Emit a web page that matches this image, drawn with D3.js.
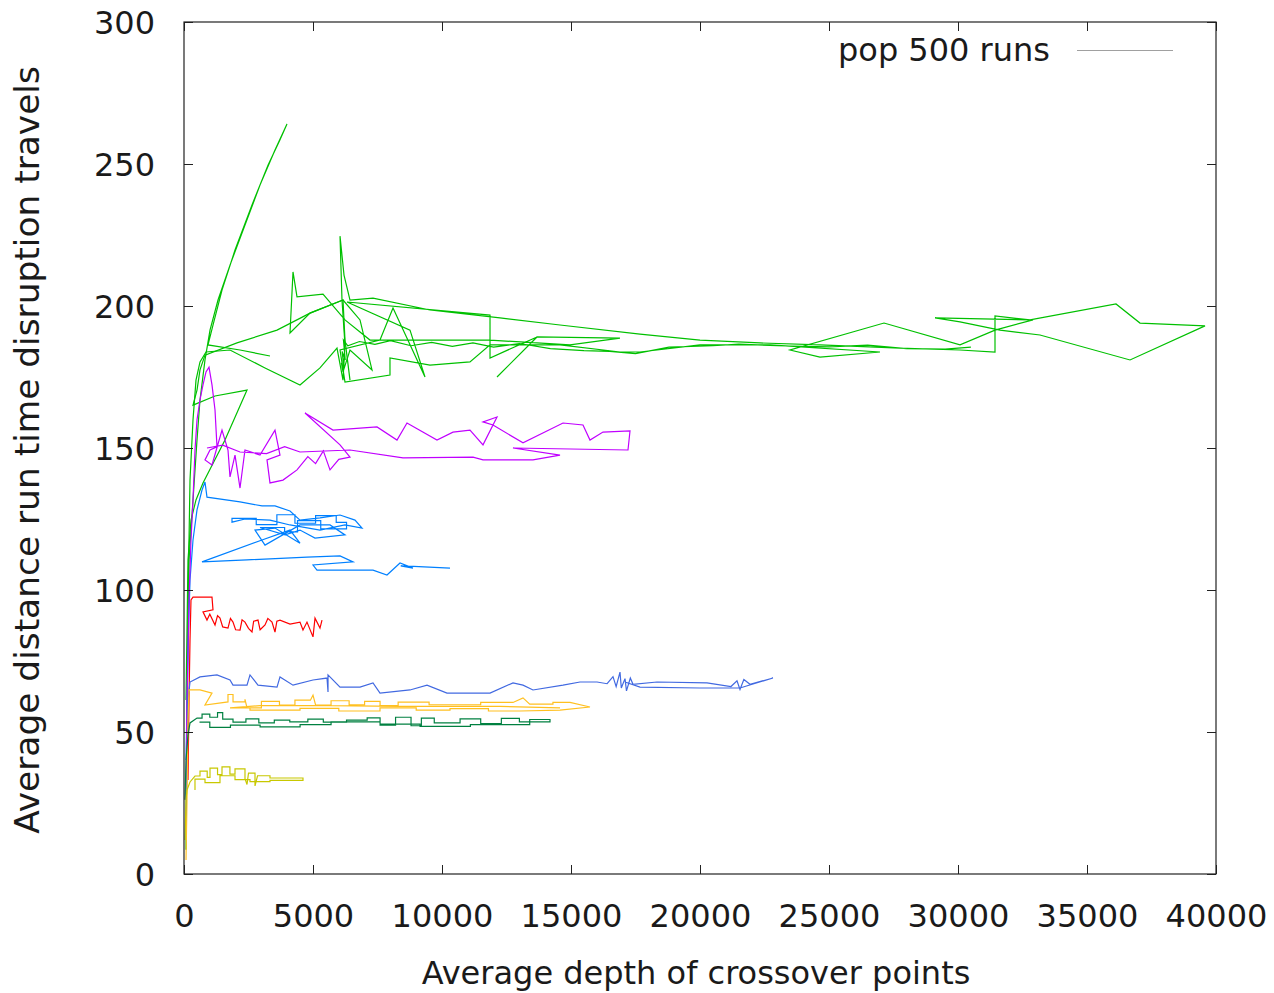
<!DOCTYPE html>
<html>
<head>
<meta charset="utf-8">
<script src="https://cdn.jsdelivr.net/npm/d3@7"></script>
<style>
  html, body { margin: 0; padding: 0; background: #fff; }
  svg { display: block; font-family: "DejaVu Sans", sans-serif; }
</style>
</head>
<body>
<svg id="chart" width="1274" height="993"></svg>
<script>
// ---- Axis ticks / labels ----
const xTicks = [0, 5000, 10000, 15000, 20000, 25000, 30000, 35000, 40000];
const yTicks = [0, 50, 100, 150, 200, 250, 300];
const xLabel = "Average depth of crossover points";
const yLabel = "Average distance run time disruption travels";
const legendLabel = "pop 500 runs";

// ---- Runs: [average depth of crossover points, average distance] ----
const greenSteep = [[78,8.5],[116,61.3],[194,110.6],[349,131.7],[504,152.8],[620,166.9],[814,181.0],[1008,191.5],[1318,202.1],[1783,214.4],[2364,228.5],[2946,242.6],[3527,254.9],[3992,264.1],[3721,258.5],[3256,249.6],[2636,235.6],[1977,219.7],[1473,205.6],[1124,193.3],[930,186.3],[2171,184.5],[3333,182.4]];

const greenSide = [[78,61.3],[155,110.6],[271,124.6],[465,131.7],[736,137.7],[1589,152.8],[2442,170.4],[1202,168.3],[349,165.1],[504,170.4],[620,177.5],[814,182.7],[2054,187.0],[3605,191.5],[4884,197.5],[6163,202.1],[6240,188.0],[6434,173.9]];

const greenMain = [[116,40.1],[155,96.5],[233,138.7],[349,159.9],[465,173.9],[620,180.3],[853,183.8],[1783,184.5],[3140,178.2],[4496,172.2],[5271,178.2],[5930,185.2],[6163,173.9],[6240,186.3],[6124,202.1],[6047,224.6],[6202,210.9],[6434,202.1],[7326,202.8],[9535,198.6],[12248,195.8],[14574,193.3],[17674,190.1],[20000,188.0],[22326,187.0],[24651,186.3],[27752,185.2],[30078,184.5],[31434,183.8],[31434,196.5],[32791,195.1],[36124,200.7],[37054,194.0],[39574,193.0],[36667,181.0],[33178,189.8],[31628,191.5],[30078,194.4],[29109,195.8],[32907,195.1],[31434,191.5],[30078,186.3],[27132,194.0],[23488,184.5],[24651,182.0],[26977,183.8],[22714,186.3],[20000,186.3],[17674,183.8],[16899,183.8],[14574,186.3],[11861,186.3],[11085,180.3],[9535,179.2],[7984,181.7],[7984,175.7],[6240,173.2],[6047,184.5],[7597,188.0],[8101,199.3],[9341,175.0],[8760,191.5],[6318,201.4],[11861,196.8],[11861,181.7],[13682,189.1],[12132,175.0],[13682,189.1],[16899,188.7],[14961,186.3],[11861,188.0],[9147,188.0],[7209,188.0],[6240,195.1],[5388,204.2],[4380,203.2],[4225,212.0],[4109,190.5],[4884,197.5],[6163,202.1],[6822,195.1],[7287,177.5],[6434,184.5],[6163,176.8],[6100,180.0],[6200,178.0],[6130,184.0],[6250,181.0],[6180,188.0],[6350,186.0],[6800,187.5],[7400,186.5],[8000,187.8],[8800,186.0],[9600,187.2],[10400,185.8],[11200,187.0],[12000,185.5],[13000,186.8],[14200,185.0],[15500,184.3],[16500,184.0],[17500,183.2],[18800,185.5],[20500,186.0],[21500,186.6],[23000,186.0],[25000,185.6],[26500,186.2],[28000,185.0],[29500,184.8],[30500,185.5]];

const magentaRun = [[78,26.1],[116,61.3],[194,96.5],[271,117.6],[349,131.7],[426,149.3],[504,159.9],[620,166.9],[736,172.2],[853,176.8],[969,178.5],[1085,172.2],[1202,163.4],[1279,150.4],[1008,149.3],[814,145.8],[1085,144.0],[1473,156.3],[1705,149.3],[1783,139.8],[1977,147.5],[2171,135.9],[2364,149.3],[2946,147.5],[3527,156.3],[3721,147.5],[3217,145.8],[3333,137.7],[3837,138.7],[4380,142.3],[4800,147.0],[5100,144.5],[5400,149.0],[5659,142.3],[6000,146.0],[6434,146.8],[6047,151.1],[4690,162.3],[5775,156.3],[7481,157.4],[8256,152.8],[8643,158.8],[9806,152.8],[10426,155.6],[11085,156.3],[11589,151.1],[12132,160.9],[11589,159.2],[11977,158.1],[13140,151.8],[14690,158.8],[15465,158.1],[15736,152.8],[16240,155.6],[17287,156.0],[17209,149.3],[12752,150.0],[14574,147.5],[13527,145.8],[11589,145.8],[11202,146.8],[8488,146.5],[6434,149.3],[4496,148.6],[3900,150.5],[3200,148.0],[2171,148.6],[1500,151.0],[891,150.0]];

const lightBlueRun = [[78,40.1],[155,78.9],[233,103.5],[349,117.6],[504,128.2],[698,135.2],[814,138.0],[891,132.7],[2171,131.0],[3023,129.6],[3527,129.6],[4109,127.8],[4496,124.6],[5271,125.4],[6047,126.4],[6628,124.6],[6899,121.8],[6240,122.9],[5271,121.1],[4109,122.9],[3333,124.6],[2364,125.0],[1860,123.9],[1860,125.2],[2800,125.2],[2800,123.0],[3600,123.0],[3600,126.5],[4300,126.5],[4300,123.5],[5100,123.5],[5100,126.2],[5900,126.2],[5900,123.8],[6300,123.8],[6300,121.5],[5300,121.5],[5300,124.4],[4400,124.4],[4400,120.5],[3900,120.5],[3900,122.0],[2946,122.0],[3915,119.4],[4496,121.1],[5078,118.3],[6240,119.4],[5659,122.9],[4496,122.9],[3140,115.8],[2752,121.1],[3527,121.8],[4496,116.5],[4109,121.1],[3023,117.6],[698,109.9],[2442,110.6],[4767,111.6],[6047,112.0],[6550,109.9],[5000,108.8],[5155,107.0],[7326,107.0],[7868,105.3],[8372,109.5],[8876,107.7],[8400,108.5],[8900,108.3],[10310,107.7]];

const redRun = [[155,33.1],[194,61.3],[233,82.4],[271,96.5],[349,97.5],[1085,97.5],[1124,93.0],[736,92.3],[891,89.4],[1000,91.5],[1202,87.7],[1300,91.0],[1395,90.1],[1500,87.0],[1705,86.6],[1800,90.0],[1899,88.7],[2000,86.0],[2171,85.9],[2250,89.5],[2364,88.7],[2500,86.5],[2636,85.2],[2700,89.0],[2868,89.4],[2950,86.0],[3140,87.7],[3250,90.0],[3411,88.7],[3527,85.2],[3600,89.0],[3721,89.4],[4109,88.0],[4496,88.7],[4612,85.9],[4767,88.7],[5000,83.5],[5078,90.1],[5271,86.6],[5349,89.4]];

const royalBlueRun = [[78,19.0],[116,40.1],[155,61.3],[233,67.6],[620,69.4],[1279,70.1],[1783,68.3],[1899,66.5],[2442,66.5],[2558,70.1],[2868,66.5],[3605,65.8],[3721,69.4],[4225,66.5],[5000,68.3],[5543,69.0],[5582,64.1],[5582,70.1],[6047,65.8],[6822,65.8],[7326,67.3],[7597,63.7],[8760,64.8],[9419,66.5],[10194,63.7],[11861,63.7],[12752,67.3],[13140,66.5],[13527,64.8],[14690,66.5],[15349,67.6],[16008,67.6],[16400,67.0],[16628,69.5],[16750,66.0],[16899,71.1],[16950,65.5],[17093,68.8],[17150,64.5],[17300,69.0],[17403,66.8],[18333,67.6],[20271,67.3],[21200,66.0],[21434,68.0],[21550,65.0],[21700,68.5],[21938,66.8],[22829,69.0],[21550,65.5],[20000,65.5],[17674,65.8],[17093,67.6]];

const goldRun = [[78,4.9],[116,26.1],[155,54.2],[194,64.8],[620,64.8],[1085,63.7],[814,59.5],[1705,60.6],[1705,63.2],[1900,63.2],[1900,60.6],[2364,60.6],[2364,61.5],[2442,58.5],[3000,58.5],[3000,60.8],[3700,60.8],[3700,59.5],[4300,59.5],[4300,61.2],[4900,61.2],[5000,63.0],[5100,59.5],[5700,59.5],[5700,61.0],[6400,61.0],[6400,59.6],[7000,59.6],[7000,60.8],[7600,60.8],[7600,59.3],[8300,59.3],[8300,60.5],[9500,60.5],[9500,59.6],[11500,59.6],[11500,60.4],[12752,60.4],[13140,62.0],[13400,59.8],[14300,59.8],[14300,60.4],[14961,60.4],[15736,58.8],[14574,57.7],[13023,57.4],[11800,57.4],[11800,58.2],[10310,58.2],[10310,57.7],[9000,57.7],[9000,58.5],[7597,58.5],[7597,57.4],[6000,57.4],[6000,58.3],[4496,58.3],[4496,57.7],[2558,57.7],[2558,58.5],[1783,58.5],[2946,59.3],[5659,59.3],[8372,59.0],[12248,59.0],[14574,58.5]];

const darkGreenRun = [[39,26.1],[78,40.1],[155,48.9],[233,53.2],[504,54.9],[700,54.9],[700,56.3],[1000,56.3],[1000,55.2],[1300,55.2],[1300,56.8],[1500,56.8],[1500,54.5],[1900,54.5],[1900,53.5],[2400,53.5],[2400,54.6],[2900,54.6],[2900,53.2],[3500,53.2],[3500,54.2],[4100,54.2],[4100,53.6],[4800,53.6],[4800,54.5],[5400,54.5],[5400,53.5],[6300,53.5],[6300,54.2],[7100,54.2],[7100,55.0],[7600,55.0],[7600,52.4],[8200,52.4],[8200,55.2],[8800,55.2],[8800,52.2],[9200,52.2],[9200,54.9],[9700,54.9],[9700,53.2],[10700,53.2],[10700,54.6],[11500,54.6],[11500,53.0],[12300,53.0],[12300,54.8],[13000,54.8],[13000,53.6],[14186,53.6],[14186,54.4],[13400,54.4],[13400,52.6],[11100,52.6],[11100,52.0],[9150,52.0],[9150,52.8],[7600,52.8],[7600,53.6],[5700,53.6],[5700,52.6],[4500,52.6],[4500,51.8],[2950,51.8],[2950,52.4],[1800,52.4],[1800,51.6],[1000,51.6],[1000,53.5],[600,53.5]];

const oliveRun = [[39,12.0],[78,26.1],[116,29.6],[233,32.4],[426,34.5],[620,34.5],[620,36.2],[900,36.2],[900,34.0],[1008,34.0],[1008,37.3],[1300,37.3],[1300,35.0],[1473,35.0],[1473,37.7],[1780,37.7],[1780,35.2],[1977,35.2],[1977,37.0],[2364,37.0],[2364,33.6],[2442,31.5],[2500,35.5],[2752,35.5],[2752,31.0],[2850,34.6],[3333,34.6],[3333,33.8],[4612,33.8],[4612,33.0],[3333,33.0],[3333,32.5],[2558,32.5],[2558,33.2],[1977,33.2],[1977,34.6],[1395,34.6],[1395,32.2],[814,32.2],[814,33.4],[426,33.4],[426,29.6]];

const seriesNames = ["red", "green steep", "green side", "green main", "light blue", "magenta", "royal blue", "gold", "dark green", "olive"];
const seriesData = [redRun, greenSteep, greenSide, greenMain, lightBlueRun, magentaRun, royalBlueRun, goldRun, darkGreenRun, oliveRun];
const seriesColors = ["#ff0000", "#00c000", "#00c000", "#00c000", "#0080ff", "#c000ff", "#4169e1", "#ffc020", "#008040", "#c8c800"];

// ---- Layout ----
const M = { left: 184, right: 1216, top: 22, bottom: 874 };
const svg = d3.select("#chart");

const x = d3.scaleLinear().domain([0, 40000]).range([M.left, M.right]);
const y = d3.scaleLinear().domain([0, 300]).range([M.bottom, M.top]);

const textColor = "#1a1a1a";
const fontSize = 32;

// series
svg.append("clipPath").attr("id", "clip").append("rect")
  .attr("x", M.left).attr("y", M.top).attr("width", M.right - M.left).attr("height", M.bottom - M.top);
const line = d3.line().x(d => x(d[0])).y(d => y(d[1]));
const gLines = svg.append("g").attr("clip-path", "url(#clip)");
seriesData.forEach((d, i) => {
  gLines.append("path").datum(d)
    .attr("d", line)
    .attr("fill", "none")
    .attr("stroke", seriesColors[i])
    .attr("stroke-width", 1.2)
    .attr("stroke-linejoin", "miter");
});

// axes (inward ticks, mirrored)
function styleAxis(g) {
  g.select(".domain").remove();
  g.selectAll(".tick line").attr("stroke", "#222").attr("stroke-width", 1);
  g.selectAll(".tick text").attr("fill", textColor).attr("font-size", fontSize).attr("font-family", "DejaVu Sans");
}
svg.append("g").attr("transform", `translate(0,${M.bottom})`)
  .call(d3.axisBottom(x).tickValues(xTicks).tickSizeInner(-9).tickSizeOuter(0).tickPadding(30).tickFormat(d3.format("d")))
  .call(styleAxis);
svg.append("g").attr("transform", `translate(0,${M.top})`)
  .call(d3.axisTop(x).tickValues(xTicks).tickSizeInner(-9).tickSizeOuter(0).tickFormat(""))
  .call(styleAxis);
svg.append("g").attr("transform", `translate(${M.left},0)`)
  .call(d3.axisLeft(y).tickValues(yTicks).tickSizeInner(-9).tickSizeOuter(0).tickPadding(29).tickFormat(d3.format("d")))
  .call(styleAxis)
  .selectAll(".tick text").attr("dy", "0.36em");
svg.append("g").attr("transform", `translate(${M.right},0)`)
  .call(d3.axisRight(y).tickValues(yTicks).tickSizeInner(-9).tickSizeOuter(0).tickFormat(""))
  .call(styleAxis);

// frame
svg.append("rect")
  .attr("x", M.left).attr("y", M.top)
  .attr("width", M.right - M.left).attr("height", M.bottom - M.top)
  .attr("fill", "none").attr("stroke", "#222").attr("stroke-width", 1.2);

// axis titles
svg.append("text")
  .attr("x", (M.left + M.right) / 2 - 4).attr("y", 984)
  .attr("text-anchor", "middle").attr("fill", textColor).attr("font-size", fontSize)
  .text(xLabel);
svg.append("text")
  .attr("transform", `translate(39,${(M.top + M.bottom) / 2 + 2}) rotate(-90)`)
  .attr("text-anchor", "middle").attr("fill", textColor).attr("font-size", 34.4)
  .text(yLabel);

// legend
svg.append("text")
  .attr("x", 1050).attr("y", 61)
  .attr("text-anchor", "end").attr("fill", textColor).attr("font-size", fontSize)
  .text(legendLabel);
svg.append("line")
  .attr("x1", 1077).attr("x2", 1173).attr("y1", 50.5).attr("y2", 50.5)
  .attr("stroke", "#a0a0a0").attr("stroke-width", 1);
</script>
</body>
</html>
